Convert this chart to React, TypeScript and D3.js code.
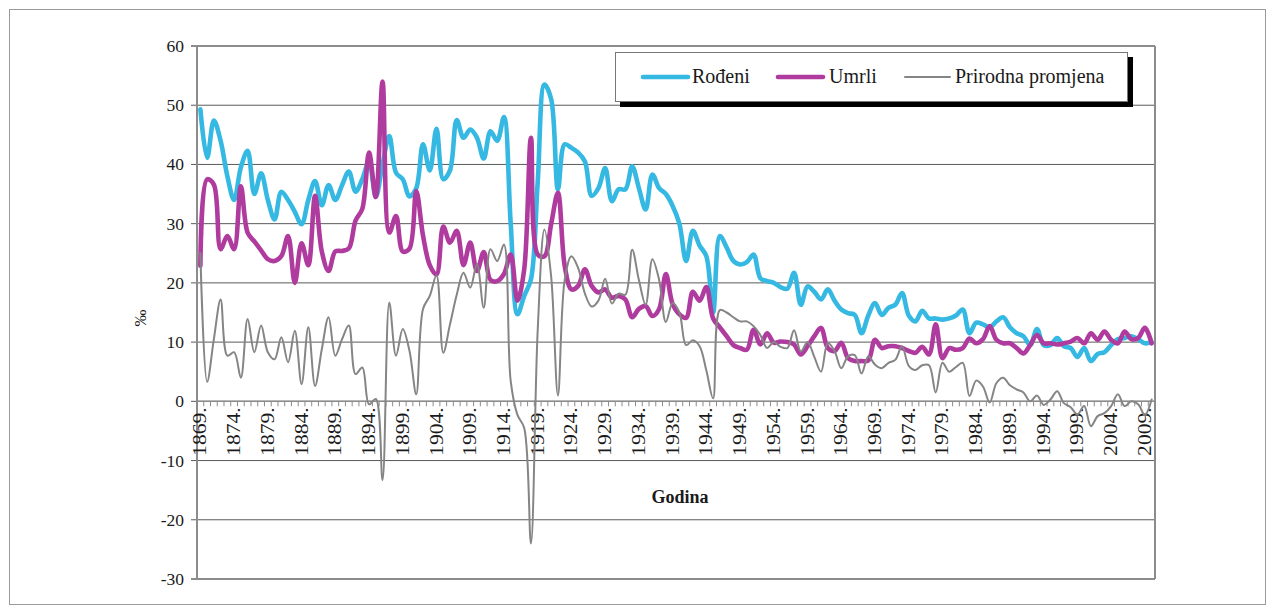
import React from "react";
import * as d3 from "d3";

// ---- Data (‰), years 1869–2010 ----
const startYear = 1869;
const endYear = 2010;
const years: number[] = d3.range(startYear, endYear + 1);

const rodeni: number[] = [
  49.3, 41.1, 47.4, 44, 38, 34, 39.5, 42.3, 35, 38.5, // 1869-1878
  34, 30.7, 35.4, 34, 32, 29.9, 34, 37.2, 33.1, 36.5, // 1879-1888
  34, 36.5, 38.8, 35.4, 37.5, 40.5, 34.5, 40, 44.8, 38.6, // 1889-1898
  37.5, 34.6, 36, 43.4, 39, 46, 37.5, 39, 47.5, 44.5, // 1899-1908
  45.9, 44.5, 41, 45.6, 44, 48, 30, 14.7, 17.8, 20.6, // 1909-1918
  37, 53.5, 51, 35.8, 43.4, 42.8, 42, 40.5, 34.7, 36, // 1919-1928
  39.4, 33.8, 35.8, 35.8, 39.7, 36, 32.4, 38.3, 36, 35, // 1929-1938
  33, 30, 23.7, 28.8, 26.3, 24.5, 15, 27.9, 26, 23.7, // 1939-1948
  23.1, 23.5, 24.8, 20.8, 20.3, 20, 19.3, 19, 21.7, 16.3, // 1949-1958
  19.4, 18.5, 17.2, 18.9, 17, 15.5, 14.9, 14.6, 11.5, 14.5, // 1959-1968
  16.6, 14.6, 15.8, 16.3, 18.3, 14.5, 13.5, 15.3, 14, 14, // 1969-1978
  13.8, 14, 14.5, 15.5, 11.5, 13.3, 13, 12.5, 13.5, 14.2, // 1979-1988
  12.5, 11.5, 11, 9.5, 12.2, 9.5, 9.5, 10.7, 9.3, 9, // 1989-1998
  7.5, 9, 6.8, 8, 8.3, 9.5, 10.5, 10.7, 11, 10.5, // 1999-2008
  9.8, 10, // 2009-2010
];

const umrli: number[] = [
  22.9, 37.5, 36.6, 25.7, 27.9, 25.7, 36.3, 28.5, 27, 25.5, // 1869-1878
  24, 23.7, 24.5, 27.9, 20, 26.7, 23, 34.7, 25.3, 22, // 1879-1888
  25.3, 25.4, 25.8, 30.5, 32.5, 42, 34.5, 54, 28.5, 31.3, // 1889-1898
  25.3, 25.8, 35.5, 28, 23, 21.4, 29.5, 26.8, 28.8, 23, // 1899-1908
  26.8, 22, 25.2, 20.5, 20.3, 21.5, 24.8, 17, 22.3, 44.5, // 1909-1918
  24.8, 24.5, 30, 35.2, 22.9, 18.9, 19.5, 22.3, 19.5, 18.4, // 1919-1928
  18.9, 17.5, 17.8, 17.2, 14.2, 15.6, 16.1, 14.4, 15.6, 21.5, // 1929-1938
  16.4, 14.7, 14.1, 18.5, 17, 19.3, 14, 12.5, 11, 9.5, // 1939-1948
  9, 8.7, 12.1, 9.6, 11.5, 9.9, 10.1, 10, 9.6, 7.9, // 1949-1958
  9.3, 11, 12.4, 9, 8.5, 9.9, 7.3, 6.8, 6.8, 6.9, // 1959-1968
  10.4, 9, 9.3, 9.3, 9, 8.5, 8.2, 9.2, 7.9, 13, // 1969-1978
  7.3, 9, 8.7, 9, 10.6, 9.8, 10.5, 12.7, 10.4, 9.8, // 1979-1988
  9.8, 9, 8.1, 9.5, 11.2, 9.8, 9.8, 9.6, 9.8, 10.1, // 1989-1998
  10.7, 9.8, 11.5, 10.4, 11.8, 10.4, 9.8, 11.8, 10.5, 10.7, // 1999-2008
  12.4, 9.8, // 2009-2010
];

const prirodna: number[] = [
  25, 3.3, 10.5, 17.2, 7.7, 8.3, 4, 13.9, 8.3, 12.8, // 1869-1878
  8.3, 7.1, 10.8, 6.6, 11.9, 2.9, 12.5, 2.6, 8.8, 14.2, // 1879-1888
  7.7, 10.5, 12.8, 4.6, 5.7, -0.5, 0.4, -13.3, 16.7, 7.7, // 1889-1898
  12.2, 8.5, 1.2, 15.6, 17.8, 21.3, 8.2, 13, 18, 21.7, // 1899-1908
  19.2, 23.2, 15.8, 25.7, 23.7, 26.5, 3.4, -2.3, -4.5, -24, // 1909-1918
  12, 29, 21, 1, 20.5, 24.5, 22.5, 18.2, 16, 17, // 1919-1928
  20.7, 16.5, 18.2, 18, 25.6, 20.5, 16.3, 24, 20.5, 13.4, // 1929-1938
  16.6, 15, 9.5, 10.3, 9.3, 5.2, 0.5, 15.4, 15, 14.2, // 1939-1948
  13.5, 13.5, 12.7, 11.2, 9, 10, 9.2, 9, 12, 8.4, // 1949-1958
  10, 7.5, 5, 9.9, 8.5, 5.6, 7.6, 7.8, 4.7, 7.6, // 1959-1968
  6.2, 5.6, 6.5, 7, 9.3, 6, 5.3, 6.1, 6.1, 1.5, // 1969-1978
  6.5, 5, 5.8, 6.5, 0.9, 3.5, 2.5, -0.2, 3.1, 4, // 1979-1988
  2.7, 2, 1.5, 0, 1, -0.6, 0.3, 1.7, -0.3, -1, // 1989-1998
  -2.2, -0.8, -4.2, -2.5, -2, -0.8, 1.2, -0.8, 0, -0.5, // 1999-2008
  -2.3, 0.3, // 2009-2010
];

const yTicks: number[] = [-30, -20, -10, 0, 10, 20, 30, 40, 50, 60];
const xLabelYears: number[] = years.filter((y) => (y - startYear) % 5 === 0);

const seriesNames = ["Rođeni", "Umrli", "Prirodna promjena"];
const seriesColors = ["#35b8e2", "#b03b9e", "#858585"];
const seriesWidths = [4.6, 4.6, 2];

const W = 1274;
const H = 610;
const plot = { left: 197, right: 1155, top: 46, bottom: 579 };
const serif = "'Liberation Serif', 'Times New Roman', serif";

export default function App() {
  const x = d3
    .scaleBand<number>()
    .domain(years)
    .range([plot.left, plot.right])
    .paddingInner(0)
    .paddingOuter(0);
  const bw = x.bandwidth();
  const cx = (yr: number) => (x(yr) as number) + bw / 2;
  const y = d3.scaleLinear().domain([-30, 60]).range([plot.bottom, plot.top]);

  const line = d3
    .line<number>()
    .x((_, i) => cx(years[i]))
    .y((v) => y(v))
    .curve(d3.curveCatmullRom.alpha(0.5));

  const allSeries = [rodeni, umrli, prirodna];
  const y0 = y(0);

  const legendItems = [
    { lx: 643, tx: 692 },
    { lx: 778, tx: 829 },
    { lx: 905, tx: 955 },
  ];

  return (
    <svg
      width={W}
      height={H}
      style={{ position: "absolute", left: 0, top: 0, background: "#fff" }}
      fontFamily={serif}
    >
      <rect x={0} y={0} width={W} height={H} fill="#fff" />
      {/* outer frame */}
      <rect x={9.5} y={9.5} width={1256} height={595} fill="none" stroke="#9a9a9a" strokeWidth={1} />

      {/* gridlines */}
      {yTicks.map((t) => (
        <line
          key={"g" + t}
          x1={plot.left - 6}
          x2={plot.right}
          y1={y(t)}
          y2={y(t)}
          stroke={t === 60 || t === -30 ? "#8c8c8c" : "#5a5a5a"}
          strokeWidth={t === 60 || t === -30 ? 2 : 1}
        />
      ))}
      {/* plot border */}
      <line x1={plot.left} x2={plot.left} y1={plot.top} y2={plot.bottom} stroke="#8c8c8c" strokeWidth={2} />
      <line x1={plot.right} x2={plot.right} y1={plot.top} y2={plot.bottom} stroke="#8c8c8c" strokeWidth={2} />

      {/* y tick labels */}
      {yTicks.map((t) => (
        <text key={"yl" + t} x={184} y={y(t) + 6} textAnchor="end" fontSize={17.5} fill="#1a1a1a">
          {t}
        </text>
      ))}
      <text
        transform={`translate(146, 318) rotate(-90)`}
        textAnchor="middle"
        fontSize={17}
        fill="#1a1a1a"
      >
        ‰
      </text>

      {/* x axis at 0 with minor ticks */}
      <line x1={plot.left} x2={plot.right} y1={y0} y2={y0} stroke="#8c8c8c" strokeWidth={1.5} />
      {d3.range(years.length + 1).map((i) => (
        <line
          key={"xt" + i}
          x1={plot.left + i * bw}
          x2={plot.left + i * bw}
          y1={y0}
          y2={y0 + 5}
          stroke="#8c8c8c"
          strokeWidth={1}
        />
      ))}
      {xLabelYears.map((yr) => (
        <text
          key={"xl" + yr}
          transform={`translate(${cx(yr) + 6}, ${y0 + 6}) scale(1, 1.2) rotate(-90)`}
          textAnchor="end"
          fontSize={18}
          fill="#1a1a1a"
        >
          {yr + "."}
        </text>
      ))}
      <text x={680} y={503} textAnchor="middle" fontSize={18} fontWeight="bold" fill="#1a1a1a">
        Godina
      </text>

      {/* series */}
      {allSeries.map((s, k) => (
        <path
          key={"s" + k}
          d={line(s) || ""}
          fill="none"
          stroke={seriesColors[k]}
          strokeWidth={seriesWidths[k]}
          strokeLinejoin="round"
          strokeLinecap="round"
        />
      ))}

      {/* legend */}
      <rect x={620} y={57} width={513} height={50} fill="#000" />
      <rect x={615.5} y={52.5} width={512} height={49} fill="#fff" stroke="#777" strokeWidth={1} />
      {seriesNames.map((n, k) => (
        <g key={"lg" + k}>
          <line
            x1={legendItems[k].lx}
            x2={legendItems[k].lx + 45}
            y1={77}
            y2={77}
            stroke={seriesColors[k]}
            strokeWidth={seriesWidths[k]}
            strokeLinecap="round"
          />
          <text x={legendItems[k].tx} y={83} fontSize={20} fill="#1a1a1a">
            {n}
          </text>
        </g>
      ))}
    </svg>
  );
}
